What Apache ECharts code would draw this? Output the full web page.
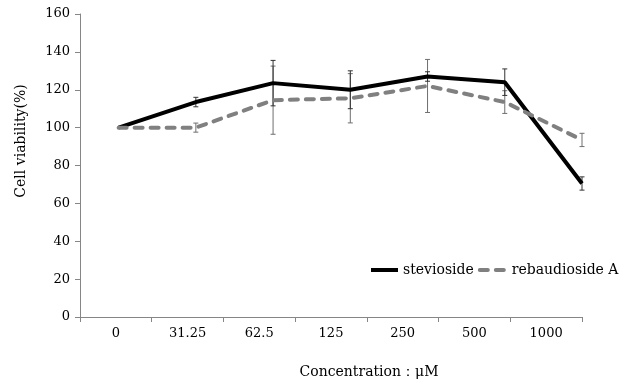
<!DOCTYPE html>
<html>
<head>
<meta charset="utf-8">
<script src="https://cdn.jsdelivr.net/npm/echarts@6/dist/echarts.min.js"></script>
<style>
html,body{margin:0;padding:0;background:#fff;}
#chart{width:624px;height:381px;}
</style>
</head>
<body>
<div id="chart"></div>
<script>
var categories = ['0', '31.25', '62.5', '125', '250', '500', '1000'];
var steviosideMean = [100, 113.5, 123.5, 120, 127, 124, 70.5];
var steviosideErr = [0, 2.5, 12, 10, 2.5, 7, 3.5];
var rebAMean = [100, 100, 114.5, 115.5, 122, 113.5, 93.5];
var rebAErr = [0, 2.4, 18, 13, 14, 6, 3.5];
var yTicks = {min: 0, max: 160, interval: 20};
var seriesNames = ['stevioside', 'rebaudioside A'];
var yTitle = 'Cell viability(%)';
var xTitle = 'Concentration：μM';

var FONT = '"DejaVu Serif", "Liberation Serif", serif';

function pts(arr) { return arr.map(function (v, i) { return [i, v]; }); }
function errPts(mean, err) { return mean.map(function (v, i) { return [i, v, err[i]]; }); }

function errRender(color) {
  return function (params, api) {
    var i = api.value(0), m = api.value(1), e = api.value(2);
    if (!e) return null;
    var top = api.coord([i, m + e]);
    var bot = api.coord([i, m - e]);
    var h = 2.5;
    var st = {stroke: color, lineWidth: 1};
    return {
      type: 'group',
      children: [
        {type: 'line', shape: {x1: top[0], y1: top[1], x2: bot[0], y2: bot[1]}, style: st},
        {type: 'line', shape: {x1: top[0] - h, y1: top[1], x2: top[0] + h, y2: top[1]}, style: st},
        {type: 'line', shape: {x1: bot[0] - h, y1: bot[1], x2: bot[0] + h, y2: bot[1]}, style: st}
      ]
    };
  };
}

var chart = echarts.init(document.getElementById('chart'), null, {renderer: 'canvas'});
chart.setOption({
  animation: false,
  backgroundColor: '#fff',
  grid: {left: 80, right: 42, top: 14, bottom: 64},
  legend: {
    data: seriesNames,
    left: 364, top: 258,
    itemWidth: 27, itemHeight: 14, itemGap: 4,
    itemStyle: {opacity: 0},
    lineStyle: {width: 4},
    textStyle: {fontFamily: FONT, fontSize: 14, color: '#000'}
  },
  xAxis: [{
    type: 'category',
    data: categories,
    boundaryGap: true,
    axisLine: {lineStyle: {color: '#868686', width: 1}},
    axisTick: {show: true, length: 5, lineStyle: {color: '#868686'}},
    axisLabel: {fontFamily: FONT, fontSize: 13, color: '#000', margin: 10}
  }, {
    type: 'value', min: -0.5, max: 6, show: false
  }],
  yAxis: {
    type: 'value',
    min: yTicks.min, max: yTicks.max, interval: yTicks.interval,
    splitLine: {show: false},
    axisLine: {show: true, onZero: false, lineStyle: {color: '#868686', width: 1}},
    axisTick: {show: true, length: 5, lineStyle: {color: '#868686'}},
    axisLabel: {fontFamily: FONT, fontSize: 13, color: '#000', margin: 10}
  },
  graphic: [
    {type: 'text', x: 21, y: 141, rotation: Math.PI / 2,
     style: {text: yTitle, font: '14px ' + FONT, fill: '#000', textAlign: 'center', textVerticalAlign: 'middle'}},
    {type: 'text', x: 369, y: 372,
     style: {text: xTitle, font: '14px ' + FONT, fill: '#000', textAlign: 'center', textVerticalAlign: 'middle'}}
  ],
  series: [
    {type: 'custom', xAxisIndex: 1, data: errPts(rebAMean, rebAErr), renderItem: errRender('#6f6f6f'), z: 1, silent: true},
    {type: 'custom', xAxisIndex: 1, data: errPts(steviosideMean, steviosideErr), renderItem: errRender('#333333'), z: 1, silent: true},
    {name: seriesNames[0], type: 'line', xAxisIndex: 1, data: pts(steviosideMean), symbol: 'none', z: 3,
     itemStyle: {color: '#000'},
     lineStyle: {color: '#000', width: 4}},
    {name: seriesNames[1], type: 'line', xAxisIndex: 1, data: pts(rebAMean), symbol: 'none', z: 4,
     itemStyle: {color: '#808080'},
     lineStyle: {color: '#808080', width: 4, type: [8, 8], cap: 'round'}}
  ]
});
</script>
</body>
</html>
